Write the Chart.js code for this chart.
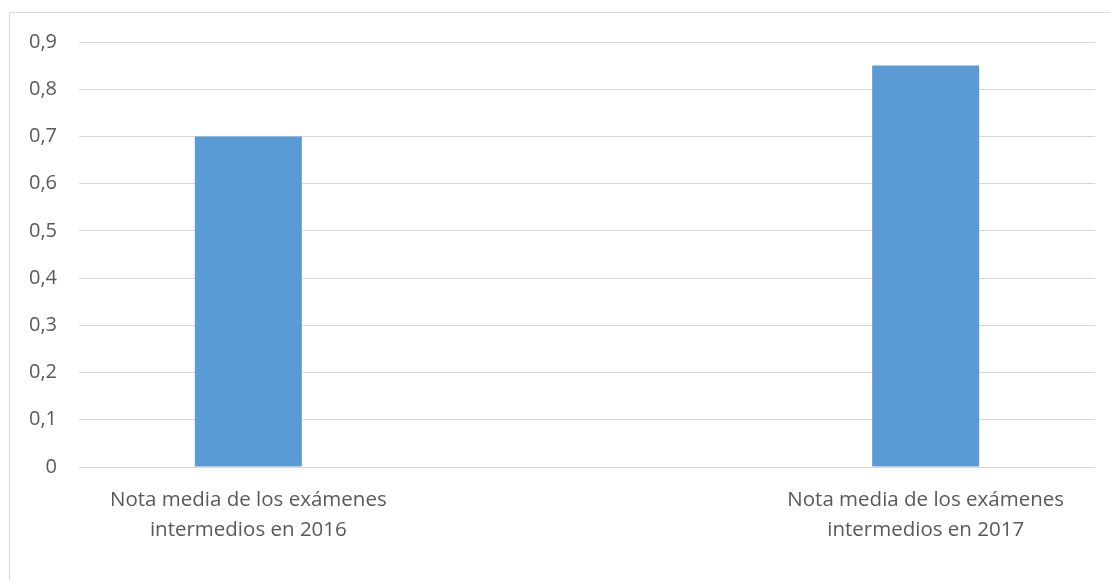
<!DOCTYPE html>
<html>
<head>
<meta charset="utf-8">
<script src="https://cdn.jsdelivr.net/npm/chart.js@4.4.1/dist/chart.umd.min.js"></script>
<style>
  html, body { margin: 0; padding: 0; background: #fff; }
  body { width: 1110px; height: 580px; position: relative; overflow: hidden; }
  #frame { position: absolute; left: 9px; top: 12px; width: 1120px; height: 600px; border: 1px solid #d9d9d9; }
  #wrap { position: absolute; left: 0; top: 0; width: 1110px; height: 580px; }
</style>
</head>
<body>
<div id="frame"></div>
<div id="wrap"><canvas id="chart"></canvas></div>
<script>
// Categories (two-line labels) and values
const categories = [
    ['Nota media de los exámenes', 'intermedios en 2016'],
    ['Nota media de los exámenes', 'intermedios en 2017']
];
const values = [0.7, 0.85];
const yTicks = [0, 0.1, 0.2, 0.3, 0.4, 0.5, 0.6, 0.7, 0.8, 0.9];

// Bars sit at 1/6 and 5/6 of the plot width, like the original
const slot = i => 1 + 4 * i;

const textColor = '#595959';
const gridColor = '#d9d9d9';

const ctx = document.getElementById('chart').getContext('2d');
new Chart(ctx, {
    type: 'bar',
    data: {
        datasets: [{
            data: values.map((v, i) => ({ x: slot(i), y: v })),
            backgroundColor: '#5b9bd5',
            borderWidth: 0,
            categoryPercentage: 0.158,
            barPercentage: 1
        }]
    },
    options: {
        responsive: true,
        maintainAspectRatio: false,
        animation: false,
        layout: { padding: { top: 42, right: 15, left: 0, bottom: 0 } },
        plugins: { legend: { display: false }, tooltip: { enabled: false } },
        scales: {
            x: {
                type: 'linear',
                min: 0,
                max: 6,
                offset: false,
                grid: { display: false, offset: false, drawTicks: false },
                border: { display: false },
                afterBuildTicks: scale => {
                    scale.ticks = categories.map((c, i) => ({ value: slot(i) }));
                },
                afterFit: scale => { scale.height = 113; },
                ticks: {
                    color: textColor,
                    font: { family: 'Open Sans', size: 20.5, lineHeight: 1.46 },
                    padding: 18,
                    maxRotation: 0,
                    autoSkip: false,
                    callback: (v, i) => categories[i]
                }
            },
            y: {
                min: 0,
                max: 0.9,
                grid: { color: gridColor, lineWidth: 1, drawTicks: false },
                border: { display: false },
                afterBuildTicks: scale => {
                    scale.ticks = yTicks.map(v => ({ value: v }));
                },
                afterFit: scale => { scale.width = 79; },
                ticks: {
                    color: textColor,
                    font: { family: 'Open Sans', size: 20 },
                    padding: 22,
                    callback: v => v === 0 ? '0' : v.toFixed(1).replace('.', ',')
                }
            }
        }
    }
});
</script>
</body>
</html>
